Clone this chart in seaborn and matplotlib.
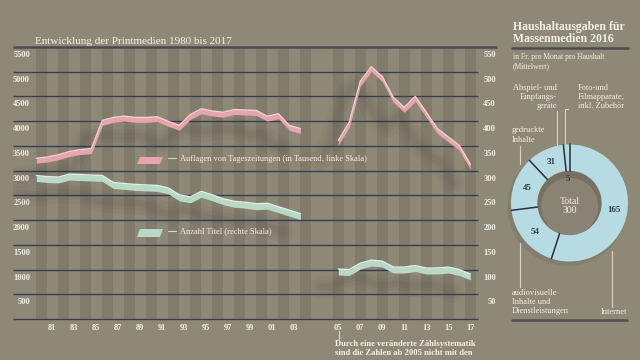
import numpy as np
import matplotlib
matplotlib.use("Agg")
import matplotlib.pyplot as plt
import matplotlib.transforms as mtransforms
from matplotlib.patches import Polygon, Circle
import pandas as pd
import seaborn as sns

# --- data ---
years_a = list(range(1980, 2005))
years_b = list(range(2005, 2018))
auflagen_a = [3250, 3275, 3320, 3385, 3425, 3445, 4015, 4075, 4100, 4075, 4075, 4090, 3995,
              3915, 4135, 4250, 4205, 4180, 4235, 4225, 4215, 4100, 4150, 3915, 3850]
auflagen_b = [3610, 3980, 4810, 5100, 4900, 4480, 4280, 4500, 4180, 3850, 3680, 3510, 3130]
titel_a = [290, 288, 287, 293, 292, 291, 290, 276, 274, 272, 271, 270, 265,
           251, 247, 258, 251, 243, 238, 236, 233, 234, 227, 220, 213]
titel_b = [101, 100, 113, 119, 117, 105, 105, 108, 103, 103, 105, 100, 91]
left_ticks = [500, 1000, 1500, 2000, 2500, 3000, 3500, 4000, 4500, 5000, 5500]
right_ticks = [50, 100, 150, 200, 250, 300, 350, 400, 450, 500, 550]
year_labels_a = ["81", "83", "85", "87", "89", "91", "93", "95", "97", "99", "01", "03"]
year_labels_b = ["05", "07", "09", "11", "13", "15", "17"]

pie_names = ["Internet", "audiovisuelle\nInhalte und\nDienstleistungen", "gedruckte\nInhalte",
             "Abspiel- und\nEmpfangs-\ngeräte", "Foto-und\nFilmapparate,\ninkl. Zubehör"]
pie_values = [165, 54, 45, 31, 5]

# --- colours ---
BG = "#8e8877"
STRIPE = "#817b6c"
GRID = "#3b3d55"
TXT = "#f3f0e6"
PINK = "#e6a4ac"
PINK_EDGE = "#f6cfd3"
GREEN = "#b9d9c6"
GREEN_EDGE = "#dff0e6"
RING = "#b7dbe2"
NAVY = "#2b3a4f"
LEADER = "#d9d5c9"

sns.set_style("white", {"axes.facecolor": BG, "figure.facecolor": BG})
plt.rcParams["font.family"] = ["Liberation Serif", "DejaVu Serif"]

fig = plt.figure(figsize=(6.4, 3.6), dpi=100, facecolor=BG)


def fbox(x0, y0, x1, y1):
    return [x0 / 640, 1 - y1 / 360, (x1 - x0) / 640, (y1 - y0) / 360]


# slot p sits at pixel 41.3 + 11 p ; value 0 at pixel 319, 500 units per 24.73 px
PX0, PW = 41.3, 11.0
VPP = 500 / 24.73


def p_of(px):
    return (px - PX0) / PW


ax = fig.add_axes(fbox(13, 40, 497, 321))
ax.set_xlim(p_of(13), p_of(497))
ax.set_ylim((319 - 321) * VPP, (319 - 40) * VPP)
ax.patch.set_visible(False)
for s in ax.spines.values():
    s.set_visible(False)
ax.set_yticks([])

# year stripes
dark_slots = list(range(0, 25, 2)) + list(range(27, 40, 2))
ax.bar(dark_slots, 5500, width=1, color=STRIPE, zorder=0, linewidth=0)

# grid lines
ax.hlines([0] + left_ticks[:-1], p_of(13), p_of(478), color=GRID, lw=1, zorder=1, clip_on=False)
ax.hlines(5500, p_of(13), p_of(497), color="#4a4b55", lw=1.8, zorder=1, clip_on=False)

pos_a = [y - 1980 - 0.45 for y in years_a]
pos_b = [y - 1978 for y in years_b]

ax2 = ax.twinx()
ax2.set_ylim(ax.get_ylim()[0] / 10, ax.get_ylim()[1] / 10)
ax2.patch.set_visible(False)
for s in ax2.spines.values():
    s.set_visible(False)
ax2.set_yticks([])

df_a = pd.DataFrame({"pos": pos_a, "auflagen": auflagen_a, "titel": titel_a})
df_b = pd.DataFrame({"pos": pos_b, "auflagen": auflagen_b, "titel": titel_b})


def ribbon(a, df, col, thick, face, edge, sh_dx, sh_dy):
    x = df["pos"].to_numpy()
    y = df[col].to_numpy()
    for lw, al in [(16, 0.035), (10, 0.045), (5, 0.05)]:
        a.plot(x + sh_dx, y + sh_dy, lw=lw, alpha=al, color="#2a251e",
               solid_capstyle="round", zorder=2)
    a.fill_between(x, y - thick, y, color=face, lw=0, zorder=3)
    sns.lineplot(data=df, x="pos", y=col, ax=a, color=edge, lw=1, zorder=4)


ribbon(ax, df_a, "auflagen", 100, PINK, PINK_EDGE, -1.6, -380)
ribbon(ax, df_b, "auflagen", 100, PINK, PINK_EDGE, -1.6, -380)
ribbon(ax2, df_a, "titel", 12, GREEN, GREEN_EDGE, -1.6, -36)
ribbon(ax2, df_b, "titel", 12, GREEN, GREEN_EDGE, -1.6, -36)
ax.set_xlabel("")
ax.set_ylabel("")
ax2.set_ylabel("")

ax.set_xticks(list(range(1, 24, 2)) + list(range(27, 40, 2)), year_labels_a + year_labels_b)
ax.tick_params(axis="x", length=0, pad=2.5, labelsize=6, labelcolor=TXT)
for t in ax.get_xticklabels():
    t.set_fontweight("bold")

off = mtransforms.offset_copy(ax.transData, fig=fig, y=-8, units="dots")
for v in left_ticks:
    ax.text(p_of(30), v, str(v), transform=off, ha="right", va="center",
            fontsize=6, color=TXT, weight="bold")
off2 = mtransforms.offset_copy(ax2.transData, fig=fig, y=-8, units="dots")
for v in right_ticks:
    ax2.text(p_of(496), v, str(v), transform=off2, ha="right", va="center",
             fontsize=6, color=TXT, weight="bold")

# --- donut ---
cx, cy, R = 569.5, 203, 58.5
pax = fig.add_axes(fbox(cx - 1.1 * R, cy - 1.1 * R, cx + 1.1 * R, cy + 1.1 * R))
total = sum(pie_values)
pax.add_patch(Circle((-0.04, -0.06), 1.02, color="black", alpha=0.07, zorder=0, lw=0))
wedges, texts, autotexts = pax.pie(
    pie_values, colors=[RING] * len(pie_values), startangle=90, counterclock=False,
    wedgeprops=dict(width=0.45, linewidth=0), pctdistance=0.77,
    autopct=lambda p: f"{p * total / 100:.0f}",
    textprops=dict(color=NAVY, fontsize=6.5, weight="bold"))
pax.add_patch(Circle((0, 0), 0.55, color="#777062", zorder=0, lw=0))
pax.add_patch(Circle((0, -0.06), 0.49, color="#8a8373", zorder=0.5, lw=0))
bounds = 90 - 360 * np.concatenate([[0], np.cumsum(pie_values)[:-1]]) / total
for a in np.radians(bounds):
    pax.plot([0.55 * np.cos(a), 1.0 * np.cos(a)], [0.55 * np.sin(a), 1.0 * np.sin(a)],
             color="#263040", lw=1.1, zorder=3)
mid = np.radians(90 - 360 * (total - pie_values[-1] / 2) / total)
autotexts[-1].set_position((0.41 * np.cos(mid), 0.41 * np.sin(mid)))
pax.text(0, -0.05, f"Total\n{total}", ha="center", va="center", color=TXT,
         fontsize=7, linespacing=1.05)
pax.set_xlim(-1.1, 1.1)
pax.set_ylim(-1.1, 1.1)
pax.axis("off")

# --- overlay for titles, legend and notes ---
ov = fig.add_axes([0, 0, 1, 1])
ov.set_xlim(0, 640)
ov.set_ylim(360, 0)
ov.axis("off")

ov.text(35, 43.5, "Entwicklung der Printmedien 1980 bis 2017", fontsize=8, color=TXT,
        va="baseline")
ov.text(513, 33, "Haushaltausgaben für\nMassenmedien 2016", fontsize=8.5, color=TXT,
        va="center", linespacing=1.0, weight="bold")
ov.plot([512, 628], [47.5, 47.5], color="#4a4b55", lw=1.8)
ov.text(513, 61.5, "in Fr. pro Monat pro Haushalt\n(Mittelwert)", fontsize=5.5, color=TXT,
        va="center", linespacing=1.15)

ov.add_patch(Polygon([(140, 157), (163, 157), (160, 164), (137, 164)], color=PINK, lw=0))
ov.plot([168, 176], [158, 158], color=LEADER, lw=0.8)
ov.text(180, 159, "Auflagen von Tageszeitungen (in Tausend, linke Skala)", fontsize=6,
        color=TXT, va="center")
ov.add_patch(Polygon([(140, 229), (163, 229), (160, 237), (137, 237)], color=GREEN, lw=0))
ov.plot([168, 176], [230.5, 230.5], color=LEADER, lw=0.8)
ov.text(180, 231, "Anzahl Titel (rechte Skala)", fontsize=6, color=TXT, va="center")

ov.plot([339, 339], [331, 339], color=LEADER, lw=0.8)
ov.text(335, 348.5, "Durch eine veränderte Zählsystematik\nsind die Zahlen ab 2005 nicht mit den",
        fontsize=6.2, color=TXT, va="center", weight="bold", linespacing=1.05)

# pie annotations
ov.text(557, 97, pie_names[3], ha="right", va="center", fontsize=6, color=TXT)
ov.text(578, 97, pie_names[4], ha="left", va="center", fontsize=6, color=TXT)
ov.text(512, 135, pie_names[2], ha="left", va="center", fontsize=6, color=TXT)
ov.text(512, 302, pie_names[1], ha="left", va="center", fontsize=6, color=TXT)
ov.text(627, 311.7, pie_names[0], ha="right", va="center", fontsize=6, color=TXT)
ov.plot([557, 557], [111, 145], color=LEADER, lw=0.8)
ov.plot([568, 564.5, 564.5], [109, 109, 145], color=LEADER, lw=0.8)
ov.plot([520, 520], [146, 164], color=LEADER, lw=0.8)
ov.plot([519.5, 519.5], [243, 287], color=LEADER, lw=0.8)
ov.plot([612, 612], [251, 307], color=LEADER, lw=0.8)
ov.plot([512, 627], [320, 320], color="#4e4e55", lw=1.8)

fig.savefig("out.png", dpi=100, facecolor=BG)
